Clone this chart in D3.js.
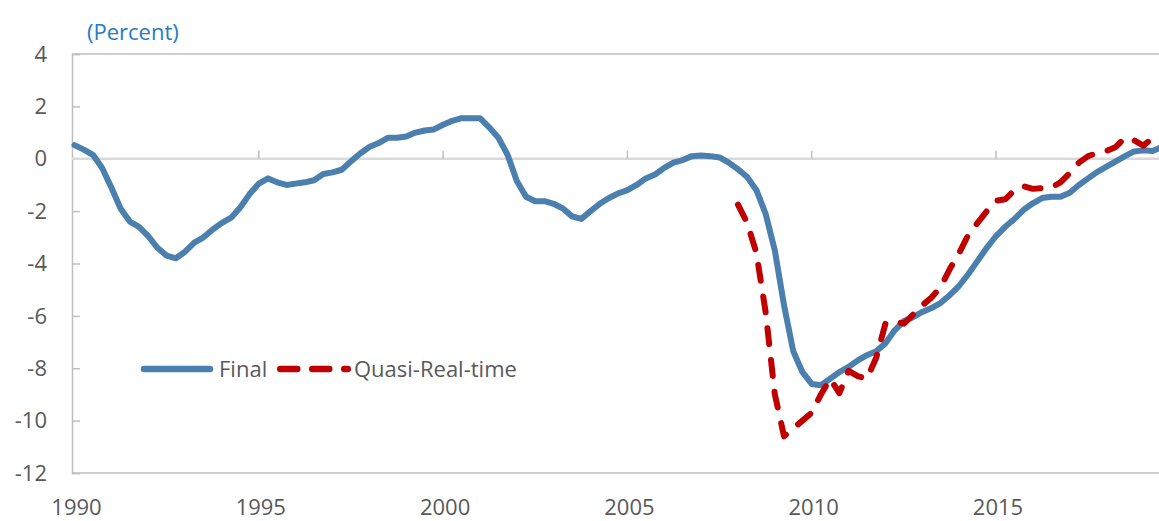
<!DOCTYPE html>
<html>
<head>
<meta charset="utf-8">
<script src="https://cdn.jsdelivr.net/npm/d3@7"></script>
<style>
  body { margin: 0; background: #fff; }
  svg { display: block; font-family: "Open Sans", "Noto Sans", sans-serif; }
</style>
</head>
<body>
<svg width="1159" height="521"></svg>
<script>
// quarterly, 1990Q1 onwards
const finalStart = 1990;
const finalValues = [
  0.52, 0.35, 0.15, -0.35,  -1.1, -1.9, -2.4, -2.6,
  -2.95, -3.4, -3.7, -3.8,  -3.55, -3.2, -3.0, -2.7,
  -2.45, -2.25, -1.85, -1.35,  -0.95, -0.75, -0.9, -1.0,
  -0.95, -0.9, -0.82, -0.58,  -0.52, -0.42, -0.1, 0.2,
  0.45, 0.6, 0.8, 0.8,  0.85, 1.0, 1.08, 1.12,
  1.3, 1.45, 1.55, 1.55,  1.55, 1.2, 0.8, 0.15,
  -0.85, -1.45, -1.62, -1.62,  -1.72, -1.9, -2.2, -2.3,
  -2.0, -1.72, -1.5, -1.32,  -1.2, -1.0, -0.75, -0.6,
  -0.35, -0.15, -0.05, 0.1,  0.12, 0.1, 0.05, -0.15,
  -0.4, -0.7, -1.2, -2.1,  -3.5, -5.6, -7.35, -8.15,
  -8.6, -8.65, -8.4, -8.15,  -7.95, -7.7, -7.5, -7.35,
  -7.05, -6.55, -6.2, -6.05,  -5.85, -5.7, -5.5, -5.2,
  -4.85, -4.4, -3.9, -3.4,  -2.95, -2.6, -2.3, -1.95,
  -1.7, -1.5, -1.45, -1.45,  -1.3, -1.0, -0.75, -0.5,
  -0.3, -0.1, 0.1, 0.28,  0.32, 0.3, 0.45
];

// quarterly, 2008Q1 onwards
const quasiStart = 2008;
const quasiValues = [
  -1.75, -2.45, -3.6, -5.85,  -9.0, -10.6, -10.3, -10.0,
  -9.7, -9.0, -8.4, -8.95,  -8.1, -8.3, -8.4, -7.6,
  -6.3, -6.2, -6.3, -5.95,  -5.6, -5.3, -4.9, -4.2,
  -3.6, -2.9, -2.45, -2.0,  -1.6, -1.55, -1.2, -1.05,
  -1.15, -1.12, -1.1, -0.9,  -0.55, -0.15, 0.1, 0.22,
  0.3, 0.45, 0.8, 0.7,  0.5, 0.8, 0.85
];

const yTicks = [4, 2, 0, -2, -4, -6, -8, -10, -12];
const xTicks = [1990, 1995, 2000, 2005, 2010, 2015];
const seriesNames = ["Final", "Quasi-Real-time"];

const toPoints = (start, vals) => vals.map((v, i) => ({ t: start + i / 4, v }));
const finalData = toPoints(finalStart, finalValues);
const quasiData = toPoints(quasiStart, quasiValues);

const svg = d3.select("svg");
const plotLeft = 72, plotTop = 54, plotBottom = 473;

const x = d3.scaleLinear().domain([1990, 2020]).range([74.5, 74.5 + 30 * 36.86]);
const y = d3.scaleLinear().domain([-12, 4]).range([plotBottom, plotTop]);

const axisColor = "#bfbfbf";
const textColor = "#595959";

// frame lines
svg.append("line")
  .attr("x1", plotLeft).attr("x2", 1159)
  .attr("y1", plotTop).attr("y2", plotTop)
  .attr("stroke", axisColor).attr("stroke-width", 1.5);
svg.append("line")
  .attr("x1", plotLeft).attr("x2", 1159)
  .attr("y1", plotBottom).attr("y2", plotBottom)
  .attr("stroke", axisColor).attr("stroke-width", 1.5);

// y axis
const yAxis = svg.append("g")
  .attr("transform", `translate(${plotLeft},0)`)
  .call(d3.axisRight(y).tickValues(yTicks).tickSize(8).tickFormat(""));
yAxis.select(".domain").attr("stroke", axisColor).attr("stroke-width", 1.5);
yAxis.selectAll(".tick line").attr("stroke", axisColor).attr("stroke-width", 1.5);

svg.append("g")
  .selectAll("text")
  .data(yTicks)
  .join("text")
  .attr("x", 47)
  .attr("y", d => y(d))
  .attr("dy", "0.35em")
  .attr("text-anchor", "end")
  .attr("font-size", "22px")
  .attr("fill", textColor)
  .text(d => d);

// zero line with x ticks pointing up
svg.append("line")
  .attr("x1", plotLeft).attr("x2", 1159)
  .attr("y1", y(0)).attr("y2", y(0))
  .attr("stroke", "#d9d9d9").attr("stroke-width", 2.5);

svg.append("g")
  .selectAll("line")
  .data(xTicks.slice(1))
  .join("line")
  .attr("x1", d => x(d)).attr("x2", d => x(d))
  .attr("y1", y(0)).attr("y2", y(0) - 8)
  .attr("stroke", axisColor).attr("stroke-width", 1.5);

svg.append("g")
  .selectAll("text")
  .data(xTicks)
  .join("text")
  .attr("x", d => x(d) + 2)
  .attr("y", 515)
  .attr("text-anchor", "middle")
  .attr("font-size", "22px")
  .attr("fill", textColor)
  .text(d => d);

// unit label
svg.append("text")
  .attr("x", 87).attr("y", 40)
  .attr("font-size", "22px")
  .attr("fill", "#1f7bc9")
  .text("(Percent)");

const line = d3.line().x(d => x(d.t)).y(d => y(d.v));

svg.append("path")
  .datum(finalData)
  .attr("d", line)
  .attr("fill", "none")
  .attr("stroke", "#4a7fae")
  .attr("stroke-width", 6)
  .attr("stroke-linejoin", "round")
  .attr("stroke-linecap", "round");

svg.append("path")
  .datum(quasiData)
  .attr("d", line)
  .attr("fill", "none")
  .attr("stroke", "#c00000")
  .attr("stroke-width", 6)
  .attr("stroke-dasharray", "16,16")
  .attr("stroke-linejoin", "round")
  .attr("stroke-linecap", "round");

// legend
const legend = svg.append("g").attr("transform", "translate(0,369)");
legend.append("line")
  .attr("x1", 144).attr("x2", 210)
  .attr("stroke", "#4a7fae").attr("stroke-width", 6.5)
  .attr("stroke-linecap", "round");
legend.append("text")
  .attr("x", 219).attr("dy", "0.35em")
  .attr("font-size", "22px").attr("fill", textColor)
  .text(seriesNames[0]);
legend.append("line")
  .attr("x1", 280.25).attr("x2", 347.75)
  .attr("stroke", "#c00000").attr("stroke-width", 6.5)
  .attr("stroke-dasharray", "17,15")
  .attr("stroke-linecap", "round");
legend.append("text")
  .attr("x", 354).attr("dy", "0.35em")
  .attr("font-size", "22px").attr("fill", textColor)
  .text(seriesNames[1]);
</script>
</body>
</html>
